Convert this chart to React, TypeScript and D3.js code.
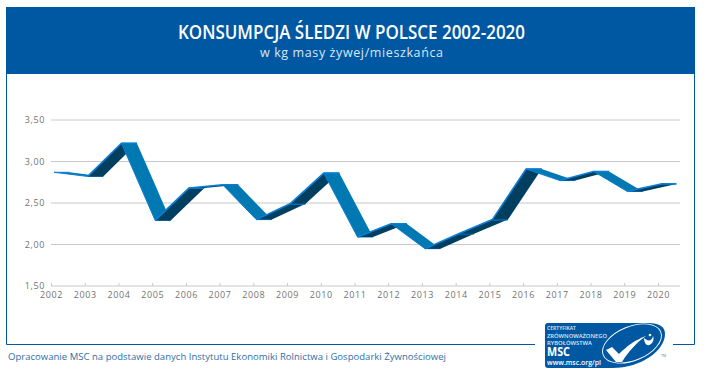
import React from "react";
import * as d3 from "d3";

const years = ["2002","2003","2004","2005","2006","2007","2008","2009","2010","2011","2012","2013","2014","2015","2016","2017","2018","2019","2020"];
const values = [2.87,2.82,3.22,2.29,2.68,2.72,2.30,2.49,2.86,2.09,2.25,1.95,2.13,2.30,2.91,2.77,2.88,2.64,2.73];
const yTicks = [1.5,2.0,2.5,3.0,3.5];
const titleText = "KONSUMPCJA ŚLEDZI W POLSCE 2002-2020";
const subtitleText = "w kg masy żywej/mieszkańca";
const sourceText = "Opracowanie MSC na podstawie danych Instytutu Ekonomiki Rolnictwa i Gospodarki Żywnościowej";
const logoLines = ["CERTYFIKAT","ZRÓWNOWAŻONEGO","RYBOŁÓWSTWA"];
const logoLineWidths = [29,60,45];
const logoLineY = [330,337.5,344.5];

const W = 706, H = 377;
const BLUE = "#0058a3";
const font = "'Open Sans', sans-serif";

export default function App() {
  const y = d3.scaleLinear().domain([1.5,3.5]).range([286,120]);
  const tickX = d3.scalePoint<string>().domain(years).range([51.5,658.5]);
  const depth = 15.5;
  const px = (i:number) => tickX(years[i])! + 2.5;
  const line = d3.line<[number,number]>();
  const segs = values.slice(1).map((v,k)=>{
    const a:[number,number]=[px(k),y(values[k])];
    const b:[number,number]=[px(k+1),y(v)];
    const up = v>values[k];
    return {a,b,up};
  });
  return (
    <svg width={W} height={H} viewBox={`0 0 ${W} ${H}`} style={{position:"absolute",left:0,top:0,display:"block",background:"#fff"}}>
      <rect x={6} y={7} width={689} height={67} fill={BLUE}/>
      <path d="M6.5 74V344.500H535M673 344.500H694.500V74" fill="none" stroke={BLUE} strokeWidth={1}/>
      <text x={351.5} y={39} textAnchor="middle" fill="#fff" fontFamily={font} fontWeight={600} fontSize={20} textLength={347} lengthAdjust="spacingAndGlyphs">{titleText}</text>
      <text x={351.5} y={57} textAnchor="middle" fill="#dbe6f2" fontFamily={font} fontSize={12.5} textLength={183} lengthAdjust="spacing">{subtitleText}</text>

      {yTicks.map(t=>(
        <g key={t}>
          <line x1={51} x2={680} y1={y(t)} y2={y(t)} stroke="#c8c8c8" strokeWidth={1}/>
          <text x={45} y={y(t)+3} textAnchor="end" fill="#737373" fontFamily={font} fontSize={9} letterSpacing={0.6}>{t.toFixed(2).replace(".",",")}</text>
        </g>
      ))}
      {years.map(t=>(
        <g key={t}>
          <line x1={tickX(t)!} x2={tickX(t)!} y1={283} y2={286} stroke="#c8c8c8" strokeWidth={1}/>
          <text x={tickX(t)!} y={298} textAnchor="middle" fill="#737373" fontFamily={font} fontSize={9} letterSpacing={0.6}>{t}</text>
        </g>
      ))}

      {segs.map((s,i)=>{
        const a2:[number,number]=[s.a[0]+depth,s.a[1]];
        const b2:[number,number]=[s.b[0]+depth,s.b[1]];
        return (
          <g key={i}>
            <path d={line([s.a,s.b,b2,a2])+"Z"} fill={s.up?"#003f60":"#0079b3"}/>
            <path d={line(s.up?[s.a,s.b,b2]:[a2,s.a,s.b,b2])!} fill="none" stroke="#0a7fd6" strokeWidth={s.up?1.6:1} strokeLinejoin="round"/>
          </g>
        );
      })}

      <text x={8} y={360} fill="#2f6ea9" fontFamily={font} fontSize={9.5} textLength={438} lengthAdjust="spacing">{sourceText}</text>

      <g>
        <path d="M548 323H648C660 323 665 327 665 334C665 350 642 368 612 368H548Q545 368 545 365V326Q545 323 548 323Z" fill={BLUE}/>
        <ellipse cx={632} cy={343.5} rx={31} ry={17} transform="rotate(-22 632 343.500)" fill="none" stroke="#fff" strokeWidth={0.9}/>
        <path d="M606 350L612 347L619 354C627 346 635 340 646 336C636 343 628 352 622 362H616Z" fill="#fff"/>
        <path d="M644 338C648 342 652 341 653 336C655 341 651 346 647 345C645 344 644 341 644 338Z" fill="#fff"/>
        <circle cx={650} cy={335} r={1.3} fill="#fff"/>
        {logoLines.map((t,i)=>(
          <text key={t} x={547} y={logoLineY[i]} fill="#dfe9f3" fontFamily={font} fontWeight={600} fontSize={5.6} textLength={logoLineWidths[i]} lengthAdjust="spacingAndGlyphs">{t}</text>
        ))}
        <text x={547} y={356} fill="#fff" fontFamily={font} fontWeight={700} fontSize={11.5} textLength={23} lengthAdjust="spacingAndGlyphs">MSC</text>
        <text x={547} y={365} fill="#fff" fontFamily={font} fontWeight={600} fontSize={7} textLength={54} lengthAdjust="spacingAndGlyphs">www.msc.org/pl</text>
        <text x={661} y={357} fill="#777" fontFamily={font} fontSize={3.5}>TM</text>
      </g>
    </svg>
  );
}
